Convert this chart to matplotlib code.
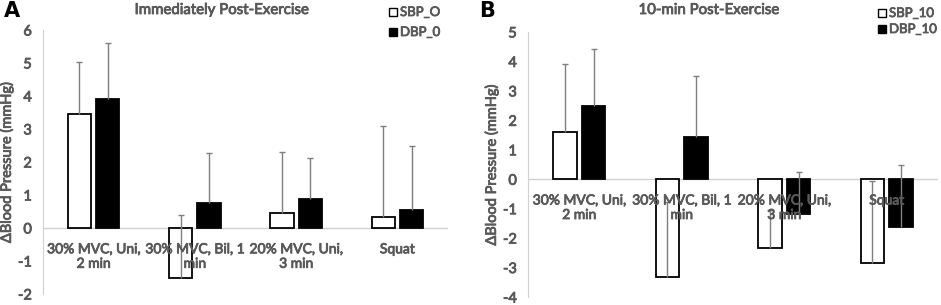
import matplotlib
matplotlib.use("Agg")
import matplotlib.pyplot as plt
from matplotlib.patches import Rectangle
import matplotlib.patheffects as pe
import numpy as np

plt.rcParams['font.family'] = ['Lato', 'DejaVu Sans']

categories = ["30% MVC, Uni,\n2 min", "30% MVC, Bil, 1\nmin", "20% MVC, Uni,\n3 min", "Squat"]

sbp_0 = [3.45, -1.5, 0.45, 0.34]
sbp_0_err = [1.58, 1.9, 1.85, 2.75]
dbp_0 = [3.9, 0.75, 0.89, 0.54]
dbp_0_err = [1.7, 1.53, 1.23, 1.94]

sbp_10 = [1.6, -3.33, -2.33, -2.85]
sbp_10_err = [2.3, 2.55, 1.28, 2.8]
dbp_10 = [2.47, 1.42, -1.17, -1.63]
dbp_10_err = [1.96, 2.08, 1.4, 2.1]

GRAY = "#595959"
LINE = "#d0d0d0"
ERR = "#7f7f7f"
BOLD = [pe.withStroke(linewidth=0.6, foreground=GRAY)]
W, H = 941, 305

fig = plt.figure(figsize=(9.41, 3.05), dpi=100)

def legend(labels, marker_x, rows_y):
    for lab, y, fc in zip(labels, rows_y, ["white", "black"]):
        fig.add_artist(Rectangle((marker_x / W, 1 - (y + 4) / H), 8 / W, 8 / H,
                                 transform=fig.transFigure, facecolor=fc,
                                 edgecolor="black", linewidth=1.0))
        fig.text((marker_x + 11) / W, 1 - y / H, lab, ha="left", va="center",
                 color=GRAY, fontsize=9.5, path_effects=BOLD)

def panel(rect, s, se, d, de, ylim, yticks, title, title_x, letter, letter_x):
    ax = fig.add_axes(rect)
    x = np.arange(len(categories))
    w = 0.23
    off = 0.14
    ax.bar(x - off, s, w, color="white", edgecolor="black", linewidth=1.3, zorder=2)
    ax.bar(x + off, d, w, color="black", edgecolor="black", linewidth=1.3, zorder=2)
    for xs, vals, errs in [(x - off, s, se), (x + off, d, de)]:
        eb = ax.errorbar(xs, vals, yerr=[np.zeros(len(vals)), errs], fmt="none", ecolor=ERR,
                         elinewidth=1.0, capsize=2, capthick=1.0, zorder=3)
        eb[1][0].set_visible(False)
    ax.axhline(0, color=LINE, linewidth=1.0, zorder=1)
    ax.set_xlim(-0.5, len(categories) - 0.5)
    ax.set_ylim(*ylim)
    ax.set_yticks(yticks)
    ax.set_yticklabels([str(t) for t in yticks])
    ax.tick_params(axis="y", length=0, colors=GRAY, labelsize=10.5, pad=8)
    for lab in ax.get_yticklabels():
        lab.set_path_effects(BOLD)
    ax.set_xticks([])
    for sp in ["top", "right", "bottom"]:
        ax.spines[sp].set_visible(False)
    ax.spines["left"].set_color(LINE)
    ax.patch.set_alpha(0)
    for i, c in enumerate(categories):
        ax.annotate(c, xy=(i, 0), xytext=(0, -11), textcoords="offset points",
                    ha="center", va="top", fontsize=10, color=GRAY,
                    linespacing=1.25, zorder=5, path_effects=BOLD)
    ax.set_ylabel("\u0394Blood Pressure (mmHg)", color=GRAY, fontsize=10.5,
                  labelpad=3, path_effects=BOLD)
    fig.text(title_x, 1 - 10 / H, title, ha="center", va="center", color=GRAY,
             fontsize=10.8, path_effects=BOLD)
    fig.text(letter_x, 1 - 11 / H, letter, ha="left", va="center", color="black",
             fontsize=15, fontweight="bold", family="DejaVu Sans")
    return ax

panel([43 / W, 1 - 294 / H, 405 / W, 264 / H], sbp_0, sbp_0_err, dbp_0, dbp_0_err,
      (-2, 6), [-2, -1, 0, 1, 2, 3, 4, 5, 6], "Immediately Post-Exercise", 222 / W,
      "A", 4 / W)
legend(["SBP_O", "DBP_0"], 389, [12, 32])
panel([528 / W, 1 - 297 / H, 410 / W, 265 / H], sbp_10, sbp_10_err, dbp_10, dbp_10_err,
      (-4, 5), [-4, -3, -2, -1, 0, 1, 2, 3, 4, 5], "10-min Post-Exercise", 709 / W,
      "B", 479 / W)
legend(["SBP_10", "DBP_10"], 878, [13, 29])

fig.savefig("out.png", dpi=100)
